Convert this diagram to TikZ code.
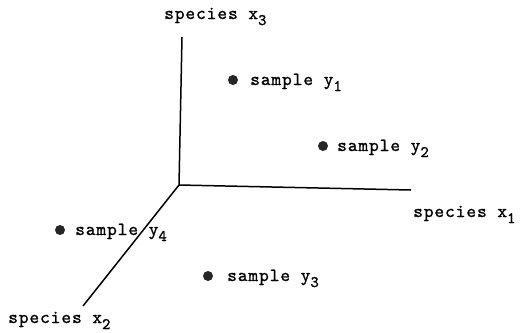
\documentclass[tikz,border=0pt]{standalone}
\usepackage{fontspec}
\newfontfamily\typew{lmmono10-regular.otf}[LetterSpace=5,FakeBold=1.2]
\newcommand{\mysub}[1]{\raisebox{-6pt}{\fontsize{16}{16}\selectfont #1}}
\begin{document}
\begin{tikzpicture}[x=1pt,y=-1pt,
  lbl/.style={anchor=base west,inner sep=0pt,font=\typew\fontsize{18.5}{20}\selectfont},
  axis/.style={line width=1.5pt},
  pt/.style={circle,fill=black!85,inner sep=0pt,minimum size=10pt}]
\useasboundingbox (0,0) rectangle (526,332);
\coordinate (O) at (179,185);
\coordinate (X3) at (182,37);
\coordinate (X1) at (411,190);
\coordinate (X2) at (83,306);
\draw[axis] (O) -- (X3);
\draw[axis] (O) -- (X1);
\draw[axis] (O) -- (X2);
\node[lbl] (lx3) at (164,19) {species x\mysub{3}};
\node[lbl] (lx1) at (413,217) {species x\mysub{1}};
\node[lbl] (lx2) at (8,323) {species x\mysub{2}};
\node[pt] (p1) at (233,80) {};
\node[lbl] (l1) at (250,85) {sample y\mysub{1}};
\node[pt] (p2) at (323,146) {};
\node[lbl] (l2) at (337,151) {sample y\mysub{2}};
\node[pt] (p4) at (60,230) {};
\node[lbl] (l4) at (75,235) {sample y\mysub{4}};
\node[pt] (p3) at (208,276) {};
\node[lbl] (l3) at (227,281) {sample y\mysub{3}};
\end{tikzpicture}
\end{document}
